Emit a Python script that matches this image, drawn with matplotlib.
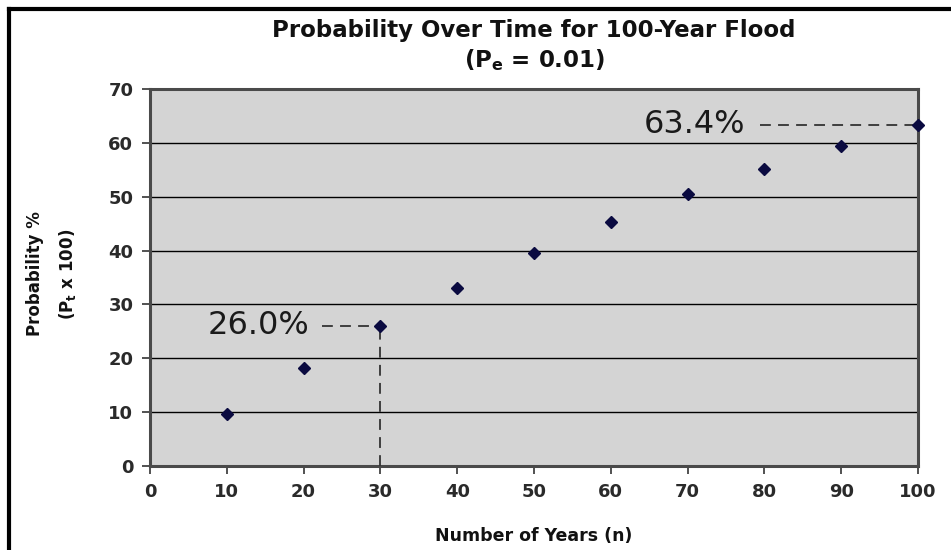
import matplotlib
matplotlib.use("Agg")
import matplotlib.pyplot as plt
from matplotlib.lines import Line2D

years = [10, 20, 30, 40, 50, 60, 70, 80, 90, 100]
probability = [9.6, 18.2, 26.0, 33.1, 39.5, 45.3, 50.5, 55.2, 59.5, 63.4]
x_ticks = [0, 10, 20, 30, 40, 50, 60, 70, 80, 90, 100]
y_ticks = [0, 10, 20, 30, 40, 50, 60, 70]
callouts = [(30, 26.0, "26.0%", 20.8, 22.4), (100, 63.4, "63.4%", 77.5, 79.4)]

plt.rcParams['font.family'] = ['DejaVu Sans']

fig = plt.figure(figsize=(9.51, 5.5), dpi=100)
fig.patch.set_facecolor('white')
ax = fig.add_axes([150/951, 1-466/550, (918-150)/951, (466-89)/550])
ax.set_facecolor('#d4d4d4')

ax.set_xlim(0, 100)
ax.set_ylim(0, 70)
ax.set_xticks(x_ticks)
ax.set_yticks(y_ticks)
ax.yaxis.grid(True, color='black', linewidth=1.0)
ax.set_axisbelow(True)

for sp in ax.spines.values():
    sp.set_color('#4a4a4a')
    sp.set_linewidth(2.2)

ax.tick_params(axis='both', direction='out', length=6, width=1.2, color='#333333',
               labelsize=13, labelcolor='#2a2a2a', pad=6)
for lab in ax.get_xticklabels() + ax.get_yticklabels():
    lab.set_fontweight('semibold')

# callout dashed lines
for xv, yv, txt, tx, lx in callouts:
    ax.plot([lx, xv], [yv, yv], linestyle=(0, (6, 4)), color='#333333', linewidth=1.3,
            zorder=3, clip_on=False)
    ax.text(tx, yv, txt, ha='right', va='center', fontsize=23, color='#1a1a1a', zorder=4)
# vertical dashed line from 30-year point
ax.plot([30, 30], [0, 26.0], linestyle=(0, (6, 4)), color='#333333', linewidth=1.3, zorder=3)

ax.plot(years, probability, linestyle='none', marker='D', markersize=6,
        color='#0a0a40', zorder=5, clip_on=False)

ax.set_xlabel('Number of Years (n)', fontsize=12.5, fontweight='bold', color='#111111', labelpad=19)
fig.text(52/951, 1-274/550, 'Probability %\n(P$_\\mathbf{t}$ x 100)', rotation=90,
         ha='center', va='center', multialignment='center', fontsize=12, fontweight='bold',
         color='#111111', linespacing=1.75)

fig.text(534/951, 1-30/550, 'Probability Over Time for 100-Year Flood', ha='center', va='center',
         fontsize=16.5, fontweight='bold', color='#111111')
fig.text(534/951, 1-60/550, '(P$_\\mathbf{e}$ = 0.01)', ha='center', va='center',
         fontsize=16.5, fontweight='bold', color='#111111')

# screenshot frame lines (top and left)
fig.add_artist(Line2D([9/951, 1], [1-9/550, 1-9/550], color='black', linewidth=3, transform=fig.transFigure))
fig.add_artist(Line2D([9/951, 9/951], [0, 1-9/550], color='black', linewidth=3, transform=fig.transFigure))

fig.savefig('out.png', dpi=100, facecolor='white')
